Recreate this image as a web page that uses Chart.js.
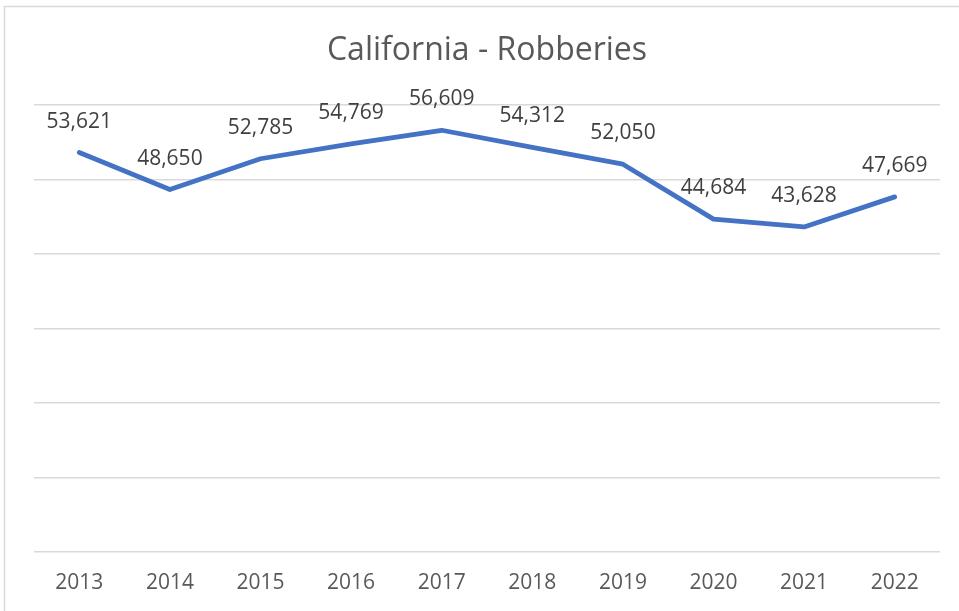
<!DOCTYPE html>
<html>
<head>
<meta charset="utf-8">
<script src="https://cdn.jsdelivr.net/npm/chart.js@4/dist/chart.umd.min.js"></script>
<style>
  html, body { margin: 0; padding: 0; background: #fff; }
  canvas { display: block; }
</style>
</head>
<body>
<canvas id="myChart" width="959" height="611"></canvas>
<script>
const ctx = document.getElementById('myChart');

// data
const years = ['2013', '2014', '2015', '2016', '2017', '2018', '2019', '2020', '2021', '2022'];
const robberies = [53621, 48650, 52785, 54769, 56609, 54312, 52050, 44684, 43628, 47669];

const fontFam = '"Open Sans", "Noto Sans", sans-serif';

// frame + value labels
const extras = {
    id: 'extras',
    beforeDraw(chart) {
        const c = chart.ctx;
        c.save();
        c.fillStyle = '#fff';
        c.fillRect(0, 0, chart.width, chart.height);
        c.strokeStyle = '#d9d9d9';
        c.lineWidth = 1.5;
        c.strokeRect(4.5, 6.5, chart.width + 20, chart.height + 20);
        c.restore();
    },
    afterDatasetsDraw(chart) {
        const c = chart.ctx;
        const meta = chart.getDatasetMeta(0);
        c.save();
        c.font = '21px ' + fontFam;
        c.fillStyle = '#404040';
        c.textAlign = 'center';
        c.textBaseline = 'middle';
        meta.data.forEach((pt, i) => {
            c.fillText(robberies[i].toLocaleString('en-US'), pt.x, pt.y - 31);
        });
        c.restore();
    }
};

const myChart = new Chart(ctx, {
    type: 'line',
    data: {
        labels: years,
        datasets: [{
            label: 'Robberies',
            data: robberies,
            borderColor: '#4472C4',
            borderWidth: 4.8,
            borderCapStyle: 'round',
            borderJoinStyle: 'round',
            pointRadius: 0,
            tension: 0,
            fill: false
        }]
    },
    options: {
        responsive: false,
        animation: false,
        layout: {
            padding: { left: 34, right: 19, top: 0, bottom: 0 }
        },
        plugins: {
            legend: { display: false },
            tooltip: { enabled: false },
            title: {
                display: true,
                text: 'California - Robberies',
                color: '#595959',
                font: { family: fontFam, size: 32, weight: 'normal' },
                padding: { top: 32, bottom: 34.6 }
            }
        },
        scales: {
            x: {
                offset: true,
                grid: { display: false, drawTicks: false },
                border: { display: false },
                ticks: {
                    color: '#595959',
                    font: { family: fontFam, size: 21 },
                    padding: 18,
                    maxRotation: 0
                },
                afterFit(scale) { scale.height = 59; }
            },
            y: {
                min: 0,
                max: 60000,
                ticks: { display: false, stepSize: 10000 },
                grid: { color: '#d9d9d9', lineWidth: 1.5, drawTicks: false },
                border: { display: false },
                afterFit(scale) { scale.width = 0; }
            }
        }
    },
    plugins: [extras]
});
</script>
</body>
</html>
